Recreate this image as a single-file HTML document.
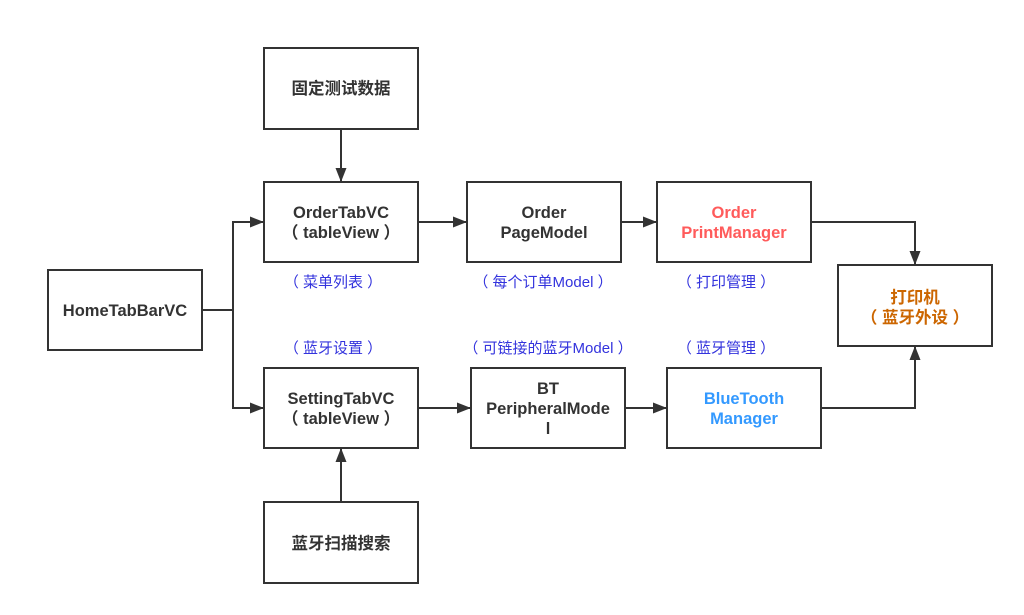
<!DOCTYPE html>
<html><head><meta charset="utf-8"><style>
html,body{margin:0;padding:0;background:#fff;}
svg{display:block;}
text{font-family:"Liberation Sans","Noto Sans CJK SC",sans-serif;font-size:15px;}
.b{font-weight:bold;fill:#333;font-size:16.5px;}
.l{fill:#3333dd;}
</style></head><body>
<svg width="1024" height="615" viewBox="0 0 1024 615">
<defs><marker id="a" markerWidth="14" markerHeight="12" refX="13" refY="6" orient="auto" markerUnits="userSpaceOnUse"><path d="M0,0.5 L14,6 L0,11.5 z" fill="#333"/></marker></defs>
<g fill="none" stroke="#333" stroke-width="2">
<rect x="264" y="48" width="154" height="81"/>
<rect x="264" y="182" width="154" height="80"/>
<rect x="467" y="182" width="154" height="80"/>
<rect x="657" y="182" width="154" height="80"/>
<rect x="48" y="270" width="154" height="80"/>
<rect x="838" y="265" width="154" height="81"/>
<rect x="264" y="368" width="154" height="80"/>
<rect x="471" y="368" width="154" height="80"/>
<rect x="667" y="368" width="154" height="80"/>
<rect x="264" y="502" width="154" height="81"/>
<path d="M341,129 V181" marker-end="url(#a)"/>
<path d="M341,501 V449" marker-end="url(#a)"/>
<path d="M202,310 H233 V222 H263" marker-end="url(#a)"/>
<path d="M233,310 V408 H263" marker-end="url(#a)"/>
<path d="M418,222 H466" marker-end="url(#a)"/>
<path d="M621,222 H656" marker-end="url(#a)"/>
<path d="M418,408 H470" marker-end="url(#a)"/>
<path d="M625,408 H666" marker-end="url(#a)"/>
<path d="M811,222 H915 V264" marker-end="url(#a)"/>
<path d="M821,408 H915 V347" marker-end="url(#a)"/>
</g>
<g text-anchor="middle">
<text class="b" x="341" y="94">固定测试数据</text>
<text class="b" x="341" y="218">OrderTabVC</text>
<text class="b" x="341" y="238">（ tableView ）</text>
<text class="b" x="544" y="218">Order</text>
<text class="b" x="544" y="238">PageModel</text>
<text class="b" x="734" y="218" style="fill:#ff5b5b">Order</text>
<text class="b" x="734" y="238" style="fill:#ff5b5b">PrintManager</text>
<text class="b" x="125" y="316">HomeTabBarVC</text>
<text class="b" x="915" y="303" style="fill:#cc6600">打印机</text>
<text class="b" x="915" y="323" style="fill:#cc6600">（ 蓝牙外设 ）</text>
<text class="b" x="341" y="404">SettingTabVC</text>
<text class="b" x="341" y="424">（ tableView ）</text>
<text class="b" x="548" y="394">BT</text>
<text class="b" x="548" y="414">PeripheralMode</text>
<text class="b" x="548" y="434">l</text>
<text class="b" x="744" y="404" style="fill:#3399ff">BlueTooth</text>
<text class="b" x="744" y="424" style="fill:#3399ff">Manager</text>
<text class="b" x="341" y="549">蓝牙扫描搜索</text>
<text class="l" x="333" y="287">（ 菜单列表 ）</text>
<text class="l" x="543" y="287">（ 每个订单Model ）</text>
<text class="l" x="726" y="287">（ 打印管理 ）</text>
<text class="l" x="333" y="353">（ 蓝牙设置 ）</text>
<text class="l" x="548" y="353">（ 可链接的蓝牙Model ）</text>
<text class="l" x="726" y="353">（ 蓝牙管理 ）</text>
</g>
</svg>
</body></html>
